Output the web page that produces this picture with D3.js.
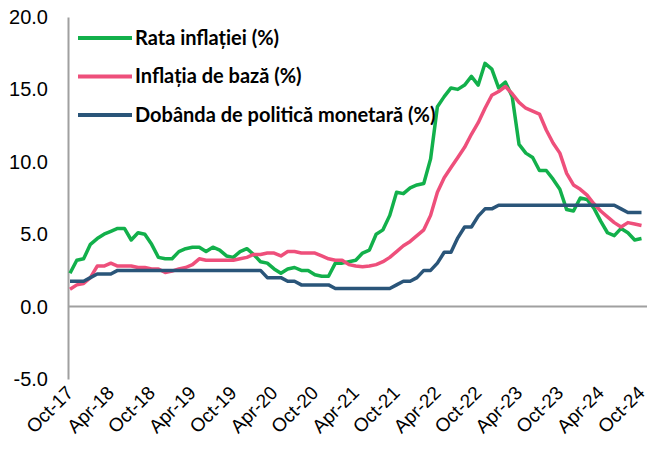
<!DOCTYPE html>
<html>
<head>
<meta charset="utf-8">
<script src="https://cdn.jsdelivr.net/npm/d3@7"></script>
<style>
  body { margin: 0; background: #fff; }
  svg { display: block; }
</style>
</head>
<body>
<div id="app"></div>
<script>
// monthly data, Oct-17 .. Oct-24 (85 months)
let tickLabels = ["Oct-17", "Apr-18", "Oct-18", "Apr-19", "Oct-19", "Apr-20", "Oct-20", "Apr-21",
    "Oct-21", "Apr-22", "Oct-22", "Apr-23", "Oct-23", "Apr-24", "Oct-24"]

let inflation = [2.3, 3.2, 3.3,
    4.3, 4.7, 5.0, 5.2, 5.4, 5.4, 4.6, 5.1, 5.0, 4.3, 3.4, 3.3,
    3.3, 3.8, 4.0, 4.1, 4.1, 3.8, 4.1, 3.9, 3.5, 3.4, 3.8, 4.0,
    3.6, 3.1, 3.0, 2.6, 2.3, 2.6, 2.7, 2.5, 2.5, 2.2, 2.1, 2.1,
    3.0, 3.0, 3.1, 3.2, 3.7, 3.9, 5.0, 5.3, 6.3, 7.9, 7.8, 8.2,
    8.4, 8.5, 10.2, 13.8, 14.5, 15.1, 15.0, 15.3, 15.9, 15.3, 16.8, 16.4,
    15.1, 15.5, 14.5, 11.2, 10.6, 10.3, 9.4, 9.4, 8.8, 8.1, 6.7, 6.6,
    7.5, 7.4, 6.8, 5.9, 5.1, 4.9, 5.4, 5.1, 4.6, 4.7]

let coreInflation = [1.2, 1.5, 1.6,
    2.0, 2.8, 2.8, 3.0, 2.8, 2.8, 2.8, 2.7, 2.7, 2.6, 2.6, 2.35,
    2.45, 2.6, 2.7, 2.9, 3.3, 3.2, 3.2, 3.2, 3.2, 3.2, 3.3, 3.4,
    3.6, 3.6, 3.7, 3.7, 3.5, 3.8, 3.8, 3.7, 3.7, 3.7, 3.5, 3.3,
    3.2, 3.2, 2.9, 2.8, 2.75, 2.8, 2.9, 3.1, 3.4, 3.8, 4.2, 4.5,
    4.9, 5.3, 6.3, 7.9, 8.9, 9.6, 10.3, 11.0, 11.9, 12.7, 13.7, 14.6,
    14.85, 15.2, 14.7, 14.1, 13.7, 13.5, 13.3, 12.2, 11.3, 10.6, 9.2, 8.4,
    8.1, 7.7, 7.1, 6.6, 6.2, 5.8, 5.5, 5.8, 5.7, 5.6]

let policyRate = [1.75, 1.75, 1.75,
    2.0, 2.25, 2.25, 2.25, 2.5, 2.5, 2.5, 2.5, 2.5, 2.5, 2.5, 2.5,
    2.5, 2.5, 2.5, 2.5, 2.5, 2.5, 2.5, 2.5, 2.5, 2.5, 2.5, 2.5,
    2.5, 2.5, 2.0, 2.0, 2.0, 1.75, 1.75, 1.5, 1.5, 1.5, 1.5, 1.5,
    1.25, 1.25, 1.25, 1.25, 1.25, 1.25, 1.25, 1.25, 1.25, 1.5, 1.75, 1.75,
    2.0, 2.5, 2.5, 3.0, 3.75, 3.75, 4.75, 5.5, 5.5, 6.25, 6.75, 6.75,
    7.0, 7.0, 7.0, 7.0, 7.0, 7.0, 7.0, 7.0, 7.0, 7.0, 7.0, 7.0,
    7.0, 7.0, 7.0, 7.0, 7.0, 7.0, 6.75, 6.5, 6.5, 6.5]

let seriesNames = ["Rata inflației (%)", "Inflația de bază (%)", "Dobânda de politică monetară (%)"]
let seriesColors = ["#12b04b", "#ee4f7b", "#2a5579"]
let yTicks = [-5, 0, 5, 10, 15, 20]

let width = 649
let height = 452
let axisGray = "#a0a0a0"

let svg = d3.select("#app").append("svg")
    .attr("width", width)
    .attr("height", height)

// one point per month
let x = d3.scaleLinear().domain([0, inflation.length - 1]).range([70, 641.5])
let y = d3.scaleLinear().domain([-5, 20]).range([379, 17])

// y axis
let yAxis = svg.append("g")
    .attr("transform", "translate(68,0)")
    .call(d3.axisLeft(y)
        .tickValues(yTicks)
        .tickFormat(d => d.toFixed(1))
        .tickSize(0)
        .tickSizeOuter(0)
        .tickPadding(20))
yAxis.select(".domain").attr("stroke", axisGray).attr("stroke-width", 2)
yAxis.selectAll("text")
    .attr("font-family", "'Liberation Sans', Arial, sans-serif")
    .attr("font-size", 20)
    .attr("fill", "#000")

// zero line, full width of the plot
svg.append("line")
    .attr("x1", 68)
    .attr("x2", 647)
    .attr("y1", y(0))
    .attr("y2", y(0))
    .attr("stroke", axisGray)
    .attr("stroke-width", 2)

// month labels along the bottom
let tickIdx = tickLabels.map((d, i) => i * 6)
let xAxis = svg.append("g")
    .attr("transform", "translate(0," + y(-5) + ")")
    .call(d3.axisBottom(x)
        .tickValues(tickIdx)
        .tickFormat((d, i) => tickLabels[i])
        .tickSize(0))
xAxis.select(".domain").remove()
xAxis.selectAll("text")
    .attr("font-family", "'Liberation Sans', Arial, sans-serif")
    .attr("font-size", 19)
    .attr("fill", "#000")
    .attr("text-anchor", "end")
    .attr("x", 0)
    .attr("y", 0)
    .attr("dy", 0)
    .attr("transform", "translate(4,15) rotate(-45)")

// lines
let line = d3.line()
    .x((d, i) => x(i))
    .y(d => y(d))

let allSeries = [inflation, coreInflation, policyRate]

svg.append("g").selectAll("path")
    .data(allSeries)
    .enter().append("path")
    .attr("d", d => line(d))
    .attr("fill", "none")
    .attr("stroke", (d, i) => seriesColors[i])
    .attr("stroke-width", 3.5)
    .attr("stroke-linejoin", "round")

// legend
let legend = svg.append("g").selectAll("g")
    .data(seriesNames)
    .enter().append("g")
    .attr("transform", (d, i) => "translate(78," + (38 + i * 38.5) + ")")

legend.append("line")
    .attr("x1", 0)
    .attr("x2", 54)
    .attr("stroke", (d, i) => seriesColors[i])
    .attr("stroke-width", 4)

legend.append("text")
    .attr("x", 57)
    .attr("y", 6.5)
    .attr("font-family", "Lato, 'Open Sans', sans-serif")
    .attr("font-weight", "bold")
    .attr("font-size", 20)
    .attr("fill", "#000")
    .text(d => d)
</script>
</body>
</html>
